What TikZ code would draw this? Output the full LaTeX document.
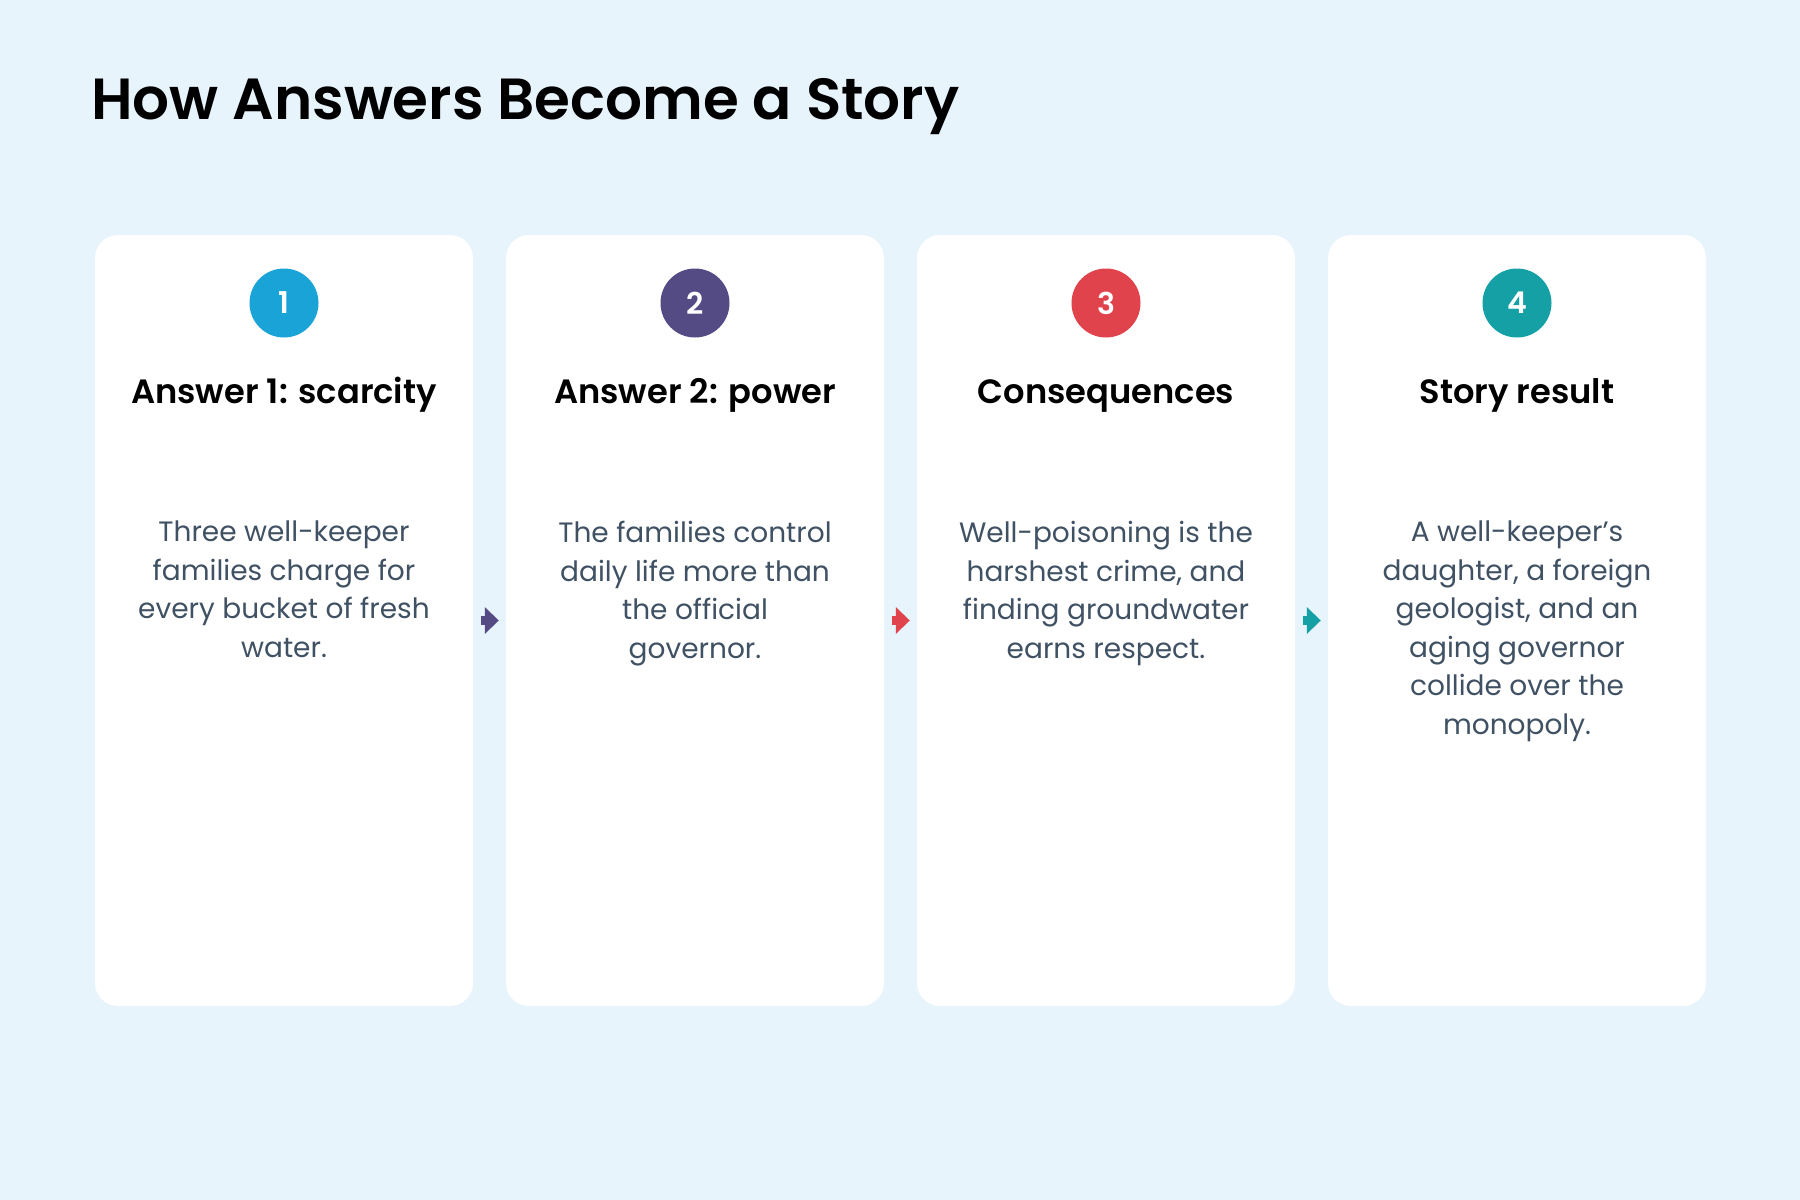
\documentclass[tikz,border=0pt]{standalone}
\usepackage{fontspec}
\setmainfont{Poppins}
\newfontfamily\semib{Poppins SemiBold}
\usetikzlibrary{arrows.meta}
\definecolor{bg}{HTML}{E8F4FB}
\definecolor{cA}{HTML}{1AA3D6}
\definecolor{cB}{HTML}{544A84}
\definecolor{cC}{HTML}{E0434B}
\definecolor{cD}{HTML}{14A0A5}
\definecolor{bodytxt}{HTML}{3F5163}
\tikzset{
  card/.style={rectangle, fill=white, rounded corners=23pt, minimum width=378pt, minimum height=771pt, inner sep=0pt},
  numdot/.style={circle, minimum size=69pt, inner sep=0pt, text=white, font=\semib\fontsize{30}{34}\selectfont},
  headtxt/.style={anchor=base, inner sep=0pt, text=black, font=\semib\fontsize{33.7}{38}\selectfont},
  bodytext/.style={anchor=north, inner sep=0pt, align=center, text=bodytxt, font=\fontsize{28}{38.5}\selectfont},
  flow/.style={line width=9pt, -{Triangle[length=14pt,width=26pt]}}
}
\begin{document}
\begin{tikzpicture}[x=1pt,y=-1pt]
\fill[bg] (0,0) rectangle (1800,1200);
\useasboundingbox (0,0) rectangle (1800,1200);
\node[anchor=base west, inner sep=0pt, font=\semib\fontsize{58}{64}\selectfont] (title) at (91,119) {How Answers Become a Story};
\foreach \i/\c/\n/\h in {1/cA/1/{Answer 1: scarcity},2/cB/2/{Answer 2: power},3/cC/3/{Consequences},4/cD/4/{Story result}}{
  \node[card] (card\i) at ({284+411*(\i-1)},620.5) {};
  \node[numdot, fill=\c] (circ\i) at ({284+411*(\i-1)},303) {\n};
  \node[headtxt] (head\i) at ({284+411*(\i-1)},403) {\h};
}
\node[bodytext] (body1) at (284,521) {Three well-keeper\\families charge for\\every bucket of fresh\\water.};
\node[bodytext] (body2) at (695,521) {The families control\\daily life more than\\the official\\governor.};
\node[bodytext] (body3) at (1106,521) {Well-poisoning is the\\harshest crime, and\\finding groundwater\\earns respect.};
\node[bodytext] (body4) at (1517,521) {A well-keeper’s\\daughter, a foreign\\geologist, and an\\aging governor\\collide over the\\monopoly.};
\draw[flow, cB] ([xshift=8pt]card1.east) -- ([xshift=-7pt]card2.west);
\draw[flow, cC] ([xshift=8pt]card2.east) -- ([xshift=-7pt]card3.west);
\draw[flow, cD] ([xshift=8pt]card3.east) -- ([xshift=-7pt]card4.west);
\end{tikzpicture}
\end{document}
